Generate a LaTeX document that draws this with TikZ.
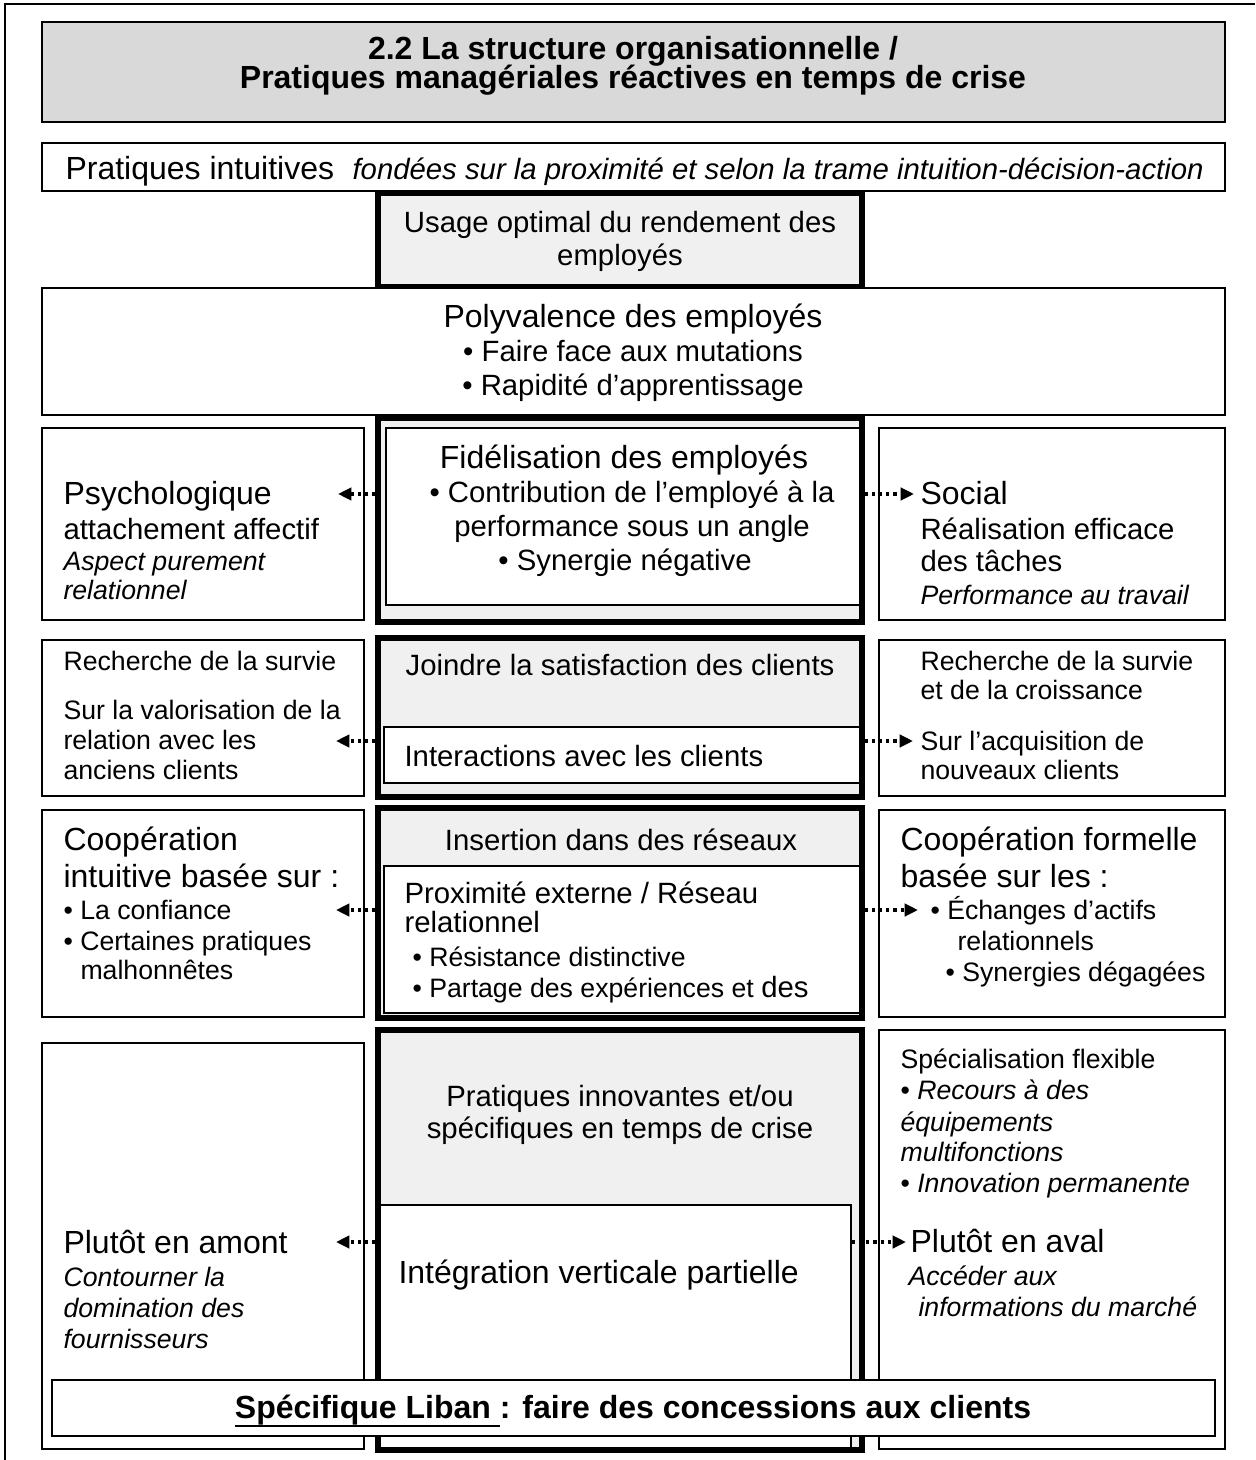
\documentclass[tikz,border=0pt]{standalone}
\usepackage{fontspec}
\setmainfont{Liberation Sans}
\usetikzlibrary{arrows.meta,fit}
\definecolor{titlegray}{RGB}{217,217,217}
\definecolor{lightfill}{RGB}{240,240,240}
\newcommand\fL{\fontsize{12}{14}\selectfont}
\newcommand\fM{\fontsize{11}{13}\selectfont}
\newcommand\fS{\fontsize{10}{12}\selectfont}
\newcommand\thickul[1]{\setbox0\hbox{#1}\rlap{\rule[-3.4pt]{\wd0}{0.8pt}}\box0}
\begin{document}
\begin{tikzpicture}[x=0.375pt,y=-0.375pt,
  sidebox/.style={draw, line width=0.75pt, fill=white, inner sep=0pt},
  thickbox/.style={draw, line width=1.9pt, fill=lightfill, inner sep=0pt},
  innerbox/.style={draw, line width=0.55pt, fill=white, inner sep=0pt},
  lt/.style={inner sep=0pt, anchor=base west},
  ct/.style={inner sep=0pt, anchor=base},
  link/.style={line width=1.3pt, dash pattern=on 1.2pt off 1.5pt, -{Triangle[length=5pt,width=4.6pt]}}]
\useasboundingbox (0,0) rectangle (1255,1460);
\draw[line width=0.6pt] (5,1460) -- (5,4) -- (1255,4);

% title
\node (title) [fit={(42,22)(1225,122)}, draw, line width=1pt, fill=titlegray, inner sep=0pt] {};
\node (title1) [ct] at (633,60) {\fL\bfseries 2.2 La structure organisationnelle /};
\node (title2) [ct] at (633,89) {\fL\bfseries Pratiques managériales réactives en temps de crise};

% pratiques intuitives
\node (prat) [sidebox, fit={(42,143)(1225,191)}] {};
\node (prat1) [lt] at (65,180) {\fL Pratiques intuitives};
\node (prat2) [lt] at (352,180) {\fM\itshape fondées sur la proximité et selon la trame intuition-décision-action};

% usage optimal
\node (c1) [thickbox, fit={(378,193)(862,287)}] {};
\node (c1a) [ct] at (620,233) {\fM Usage optimal du rendement des};
\node (c1b) [ct] at (620,266) {\fM employés};

% polyvalence
\node (poly) [sidebox, fit={(42,288)(1225,415)}] {};
\node (polya) [ct] at (633,328) {\fL Polyvalence des employés};
\node (polyb) [ct] at (633,362) {\fM • Faire face aux mutations};
\node (polyc) [ct] at (633,396) {\fM • Rapidité d’apprentissage};

% row 1
\node (c2) [thickbox, fit={(378,418)(862,622)}] {};
\node (c2in) [innerbox, fit={(386,428)(860,605)}] {};
\node (c2a) [ct] at (624,469) {\fL Fidélisation des employés};
\node (c2b) [ct] at (632,503) {\fM • Contribution de l’employé à la};
\node (c2c) [ct] at (632,537) {\fM performance sous un angle};
\node (c2d) [ct] at (625,571) {\fM • Synergie négative};

\node (l1) [sidebox, fit={(42,428)(364,620)}] {};
\node (l1a) [lt] at (63,505) {\fL Psychologique};
\node (l1b) [lt] at (63,540) {\fM attachement affectif};
\node (l1c) [lt] at (63,571) {\fS\itshape Aspect purement};
\node (l1d) [lt] at (63,600) {\fS\itshape relationnel};

\node (r1) [sidebox, fit={(879,428)(1225,620)}] {};
\node (r1a) [lt] at (920,505) {\fL Social};
\node (r1b) [lt] at (920,540) {\fM Réalisation efficace};
\node (r1c) [lt] at (920,572) {\fM des tâches};
\node (r1d) [lt] at (920,604) {\fS\itshape Performance au travail};

% row 2
\node (c3) [thickbox, fit={(378,638)(862,797)}] {};
\node (c3a) [ct] at (620,675) {\fM Joindre la satisfaction des clients};
\node (c3in) [innerbox, fit={(384,727)(860,783)}] {};
\node (c3b) [lt] at (404,766) {\fM Interactions avec les clients};

\node (l2) [sidebox, fit={(42,640)(364,796)}] {};
\node (l2a) [lt] at (63,670) {\fS Recherche de la survie};
\node (l2b) [lt] at (63,719) {\fS Sur la valorisation de la};
\node (l2c) [lt] at (63,749) {\fS relation avec les};
\node (l2d) [lt] at (63,779) {\fS anciens clients};

\node (r2) [sidebox, fit={(879,640)(1225,796)}] {};
\node (r2a) [lt] at (920,670) {\fS Recherche de la survie};
\node (r2b) [lt] at (920,699) {\fS et de la croissance};
\node (r2c) [lt] at (920,750) {\fS Sur l’acquisition de};
\node (r2d) [lt] at (920,779) {\fS nouveaux clients};

% row 3
\node (c4) [thickbox, fit={(378,808)(862,1018)}] {};
\node (c4a) [ct] at (621,850) {\fM Insertion dans des réseaux};
\node (c4in) [innerbox, fit={(384,866)(860,1013)}] {};
\node (c4b) [lt] at (404,903) {\fM Proximité externe / Réseau};
\node (c4c) [lt] at (404,932) {\fM relationnel};
\node (c4d) [lt] at (412,966) {\fS • Résistance distinctive};
\node (c4e) [lt] at (412,997) {\fS • Partage des expériences et {\fM des}};

\node (l3) [sidebox, fit={(42,810)(364,1017)}] {};
\node (l3a) [lt] at (63,850) {\fL Coopération};
\node (l3b) [lt] at (63,887) {\fL intuitive basée sur :};
\node (l3c) [lt] at (63,919) {\fS • La confiance};
\node (l3d) [lt] at (63,950) {\fS • Certaines pratiques};
\node (l3e) [lt] at (80,979) {\fS malhonnêtes};

\node (r3) [sidebox, fit={(879,810)(1225,1017)}] {};
\node (r3a) [lt] at (900,850) {\fL Coopération formelle};
\node (r3b) [lt] at (900,887) {\fL basée sur les :};
\node (r3c) [lt] at (930,919) {\fS • Échanges d’actifs};
\node (r3d) [lt] at (957,950) {\fS relationnels};
\node (r3e) [lt] at (945,981) {\fS • Synergies dégagées};

% row 4
\node (l4) [sidebox, fit={(42,1043)(364,1449)}] {};
\node (l4a) [lt] at (63,1253) {\fL Plutôt en amont};
\node (l4b) [lt] at (63,1286) {\fS\itshape Contourner la};
\node (l4c) [lt] at (63,1317) {\fS\itshape domination des};
\node (l4d) [lt] at (63,1348) {\fS\itshape fournisseurs};

\node (r4) [sidebox, fit={(879,1030)(1225,1449)}] {};
\node (r4a) [lt] at (900,1068) {\fS Spécialisation flexible};
\node (r4b) [lt] at (900,1099) {\fS • \itshape Recours à des};
\node (r4c) [lt] at (900,1131) {\fS\itshape équipements};
\node (r4d) [lt] at (900,1161) {\fS\itshape multifonctions};
\node (r4e) [lt] at (900,1192) {\fS • \itshape Innovation permanente};
\node (r4f) [lt] at (910,1252) {\fL Plutôt en aval};
\node (r4g) [lt] at (908,1285) {\fS\itshape Accéder aux};
\node (r4h) [lt] at (918,1316) {\fS\itshape informations du marché};

\node (c5) [thickbox, fit={(378,1030)(862,1450)}] {};
\node (c5a) [ct] at (620,1106) {\fM Pratiques innovantes et/ou};
\node (c5b) [ct] at (620,1138) {\fM spécifiques en temps de crise};
\node (c5in) [innerbox, fit={(380,1205)(851,1448)}] {};
\node (c5c) [lt] at (398,1283) {\fL Intégration verticale partielle};

% bottom
\node (liban) [sidebox, line width=0.9pt, fit={(52,1380)(1215,1436)}] {};
\node (libant) [ct] at (633,1418) {\fL\bfseries\thickul{Spécifique Liban }: faire des concessions aux clients};

% connectors
\coordinate (e1l) at (338,494);
\coordinate (e1r) at (914,494);
\coordinate (e2l) at (336,741);
\coordinate (e2r) at (913,741);
\coordinate (e3l) at (336,910);
\coordinate (e3r) at (918,910);
\coordinate (e4l) at (336,1242);
\coordinate (e4r) at (906,1242);
\draw[link] (c2.west |- e1l) -- (e1l);
\draw[link] (c2.east |- e1r) -- (e1r);
\draw[link] (c3.west |- e2l) -- (e2l);
\draw[link] (c3.east |- e2r) -- (e2r);
\draw[link] (c4.west |- e3l) -- (e3l);
\draw[link] (c4.east |- e3r) -- (e3r);
\draw[link] (c5.west |- e4l) -- (e4l);
\draw[link] (c5in.east |- e4r) -- (e4r);
\end{tikzpicture}
\end{document}
